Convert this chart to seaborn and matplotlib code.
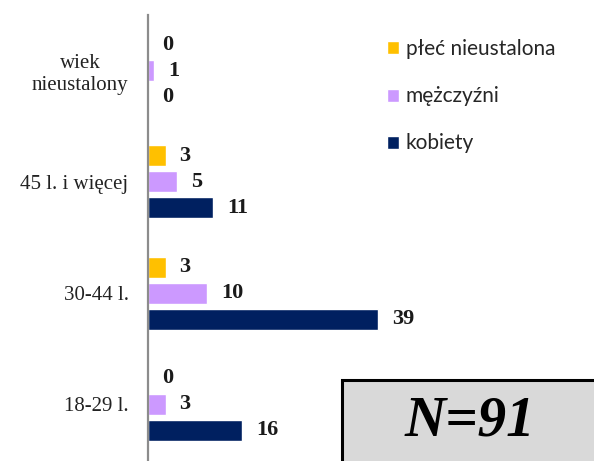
import matplotlib
matplotlib.use("Agg")
import matplotlib.pyplot as plt
import seaborn as sns
import pandas as pd
from matplotlib.patches import Rectangle

# ---- data ----
age_groups = ["wiek\nnieustalony", "45 l. i więcej", "30-44 l.", "18-29 l."]
series = ["płeć nieustalona", "mężczyźni", "kobiety"]
plec_nieustalona = [0, 3, 3, 0]
mezczyzni = [1, 5, 10, 3]
kobiety = [0, 11, 39, 16]
colors = ["#FFC000", "#CC99FF", "#002060"]
total_label = "N=91"

rows = []
for s, vals in zip(series, [plec_nieustalona, mezczyzni, kobiety]):
    for a, v in zip(age_groups, vals):
        rows.append({"wiek": a, "grupa": s, "n": v})
df = pd.DataFrame(rows)

sns.set_theme(style="white")
serif = ["Liberation Serif", "DejaVu Serif"]
sans = ["Lato", "DejaVu Sans"]

W, H = 594, 461
fig = plt.figure(figsize=(W / 100, H / 100), dpi=100)
ax = fig.add_axes([148 / W, 1 / H, 1 - 148 / W, 445 / H])

sns.barplot(data=df, y="wiek", x="n", hue="grupa", order=age_groups,
            hue_order=series, palette=colors, orient="h", width=0.7, gap=0.19,
            saturation=1, ax=ax)

ax.set_xlim(0, 75.6)
ax.set_ylim(3.5, -0.5)
ax.set_xlabel("")
ax.set_ylabel("")
ax.set_xticks([])
for sp in ["top", "right", "bottom"]:
    ax.spines[sp].set_visible(False)
ax.spines["left"].set_color("#8c8c8c")
ax.spines["left"].set_linewidth(1.6)
ax.tick_params(axis="y", length=0, pad=14)
for lab in ax.get_yticklabels():
    lab.set_family(serif)
    lab.set_fontsize(15)
    lab.set_color("#222222")
    lab.set_multialignment("center")

for cont in ax.containers:
    ax.bar_label(cont, fmt="%d", padding=10, fontsize=16, fontweight="bold",
                 family=serif, color="#1a1a1a")

handles, labels = ax.get_legend_handles_labels()
ax.get_legend().remove()
fig.legend(handles, labels, loc="upper left",
           bbox_to_anchor=(379 / W, 1 - 31 / H), bbox_transform=fig.transFigure,
           frameon=False, prop={"family": sans, "size": 15},
           handlelength=0.58, handleheight=0.58, handletextpad=0.3,
           labelspacing=1.3, borderaxespad=0)

fig.add_artist(Rectangle((342 / W, -0.1), 0.6, 0.1 + 81 / H,
                         transform=fig.transFigure, facecolor="#d9d9d9",
                         edgecolor="black", linewidth=2.2, clip_on=False))
fig.text(470 / W, 1 - 421 / H, total_label, ha="center", va="center",
         fontsize=41, fontstyle="italic", fontweight="bold", family=serif,
         color="black")

fig.savefig("out.png", dpi=100)
